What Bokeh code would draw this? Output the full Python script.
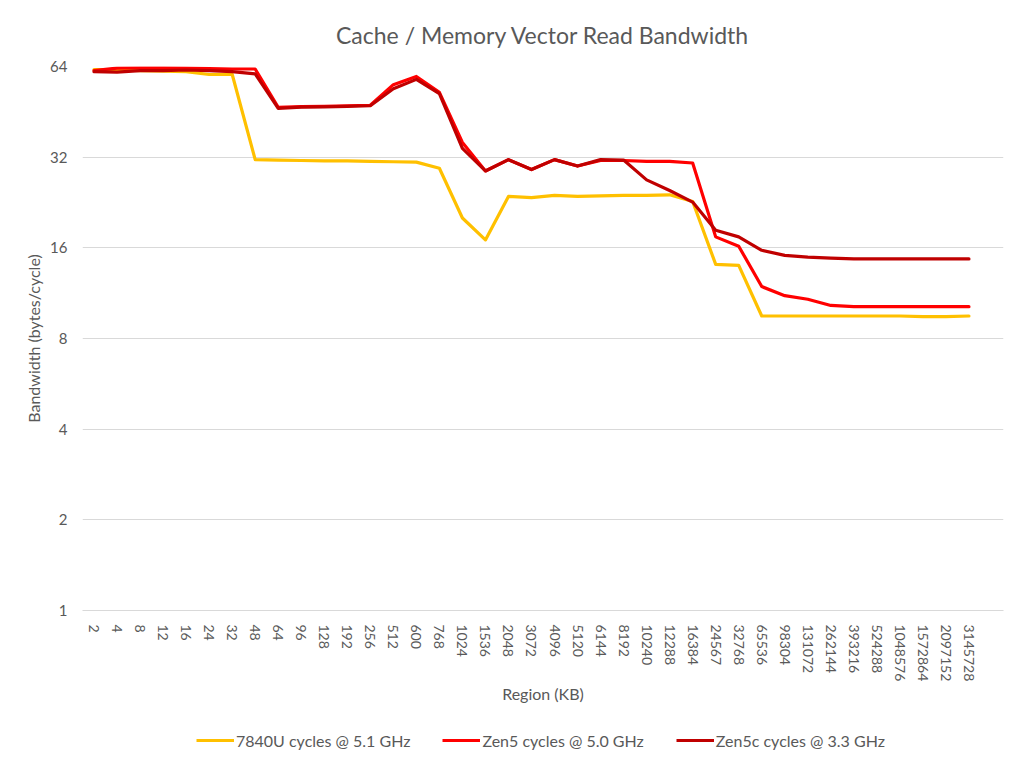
from bokeh.plotting import figure
from bokeh.layouts import column
from bokeh.models import (Range1d, FixedTicker, Legend, LegendItem, ColumnDataSource)
from bokeh.embed import file_html
from bokeh.resources import INLINE

regions = ["2", "4", "8", "12", "16", "24", "32", "48", "64", "96", "128", "192", "256",
           "512", "600", "768", "1024", "1536", "2048", "3072", "4096", "5120", "6144",
           "8192", "10240", "12288", "16384", "24567", "32768", "65536", "98304", "131072",
           "262144", "393216", "524288", "1048576", "1572864", "2097152", "3145728"]

bw_7840u = [62.5, 62.5, 62.0, 61.8, 61.5, 60.2, 60.3, 31.4, 31.3, 31.2, 31.1, 31.1, 31.0,
            30.9, 30.8, 29.4, 20.1, 17.0, 23.7, 23.5, 23.9, 23.7, 23.8, 23.9, 23.9, 24.0,
            22.8, 14.1, 14.0, 9.5, 9.5, 9.5, 9.5, 9.5, 9.5, 9.5, 9.45, 9.45, 9.5]

bw_zen5 = [62.0, 63.2, 63.3, 63.3, 63.2, 63.0, 62.8, 62.8, 46.8, 47.1, 47.2, 47.4, 47.6,
           55.7, 59.3, 52.5, 35.8, 28.8, 31.4, 29.1, 31.4, 29.9, 31.2, 31.2, 31.0, 31.0,
           30.6, 17.4, 16.2, 11.9, 11.1, 10.8, 10.3, 10.2, 10.2, 10.2, 10.2, 10.2, 10.2]

bw_zen5c = [61.5, 61.3, 62.0, 62.0, 62.3, 62.0, 61.5, 60.5, 46.5, 46.9, 47.0, 47.2, 47.4,
            54.0, 58.0, 52.0, 34.2, 28.8, 31.4, 29.1, 31.4, 29.9, 31.4, 31.3, 26.9, 24.8,
            22.7, 18.3, 17.4, 15.7, 15.1, 14.9, 14.8, 14.7, 14.7, 14.7, 14.7, 14.7, 14.7]

series_names = ["7840U cycles @ 5.1 GHz", "Zen5 cycles @ 5.0 GHz", "Zen5c cycles @ 3.3 GHz"]
series_colors = ["#FFC000", "#FF0000", "#C00000"]

y_ticks = [1, 2, 4, 8, 16, 32, 64]

FONT = "Lato"
TXT = "#595959"

xs = list(range(len(regions)))
all_series = [bw_7840u, bw_zen5, bw_zen5c]

p = figure(width=1024, height=725, output_backend="svg", toolbar_location=None,
           y_axis_type="log", x_range=Range1d(-0.5, len(regions) + 0.5),
           y_range=Range1d(1, 64),
           min_border_left=82, min_border_right=21, min_border_top=66,
           min_border_bottom=115)

p.title.text = "Cache / Memory Vector Read Bandwidth"
p.title.align = "center"
p.title.text_font = FONT
p.title.text_font_size = "23px"
p.title.text_font_style = "normal"
p.title.text_color = TXT
p.title.standoff = 35

p.outline_line_color = None
p.background_fill_color = "white"
p.border_fill_color = "white"

for vals, col in zip(all_series, series_colors):
    src = ColumnDataSource(dict(x=xs, y=vals))
    p.line("x", "y", source=src, line_color=col, line_width=3.2,
           line_join="round", line_cap="round")

# x axis
p.xaxis.ticker = FixedTicker(ticks=xs)
p.xaxis.major_label_overrides = {i: lab for i, lab in enumerate(regions)}
p.xaxis.major_label_orientation = "vertical"
p.xaxis.major_tick_line_color = None
p.xaxis.minor_tick_line_color = None
p.xaxis.axis_line_color = "#D9D9D9"
p.xaxis.major_label_text_font = FONT
p.xaxis.major_label_text_font_size = "14px"
p.xaxis.major_label_text_color = TXT
p.xaxis.major_label_standoff = 8
p.xaxis.axis_label = "Region (KB)"
p.xaxis.axis_label_text_font = FONT
p.xaxis.axis_label_text_font_size = "16px"
p.xaxis.axis_label_text_font_style = "normal"
p.xaxis.axis_label_text_color = TXT
p.xaxis.axis_label_standoff = 0
p.xgrid.grid_line_color = None

# y axis
p.yaxis.ticker = FixedTicker(ticks=y_ticks)
p.yaxis.major_label_overrides = {v: str(v) for v in y_ticks}
p.yaxis.major_tick_line_color = None
p.yaxis.minor_tick_line_color = None
p.yaxis.axis_line_color = None
p.yaxis.major_label_text_font = FONT
p.yaxis.major_label_text_font_size = "15px"
p.yaxis.major_label_text_color = TXT
p.yaxis.major_label_standoff = 9
p.yaxis.axis_label = "Bandwidth (bytes/cycle)"
p.yaxis.axis_label_text_font = FONT
p.yaxis.axis_label_text_font_size = "16px"
p.yaxis.axis_label_text_font_style = "normal"
p.yaxis.axis_label_text_color = TXT
p.yaxis.axis_label_standoff = 4
p.ygrid.ticker = FixedTicker(ticks=y_ticks)
p.ygrid.grid_line_color = "#D9D9D9"
p.ygrid.grid_line_width = 1
p.ygrid.minor_grid_line_color = None

# legend strip below the chart (series drawn outside its visible range,
# only their legend glyphs show)
pl = figure(width=1024, height=34, output_backend="svg", toolbar_location=None,
            x_range=Range1d(-0.5, len(regions) + 0.5), y_range=Range1d(0, 1),
            min_border=0, min_border_left=0, min_border_right=0,
            min_border_top=0, min_border_bottom=0)
pl.axis.visible = False
pl.grid.visible = False
pl.outline_line_color = None
pl.background_fill_color = "white"
pl.border_fill_color = "white"
leg_renderers = []
for vals, col in zip(all_series, series_colors):
    leg_renderers.append(pl.line(x=xs, y=vals, line_color=col, line_width=3.2))

legend = Legend(items=[LegendItem(label=n, renderers=[r]) for n, r in zip(series_names, leg_renderers)],
                orientation="horizontal", location=(114, 9))
legend.label_text_font = FONT
legend.label_text_font_size = "16px"
legend.label_text_color = TXT
legend.glyph_width = 38
legend.label_standoff = 2
legend.spacing = 32
legend.border_line_color = None
legend.background_fill_alpha = 0
legend.padding = 2
legend.margin = 0
pl.add_layout(legend)

layout = column(p, pl, spacing=0)

open("out.html", "w").write(file_html(layout, INLINE))
